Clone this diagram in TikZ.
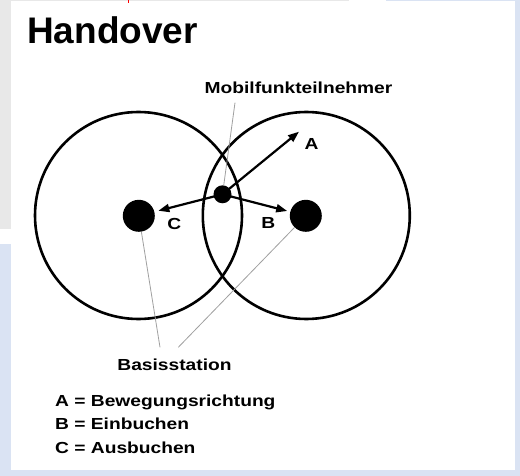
\documentclass[tikz,border=0pt]{standalone}
\usepackage{fontspec}
\setmainfont{Liberation Sans}
\newfontfamily\lblfont[FakeStretch=1.2]{Liberation Sans}
\usetikzlibrary{arrows.meta}
\definecolor{pagegray}{HTML}{E8E8E8}
\definecolor{pageblue}{HTML}{DAE3F3}
\definecolor{leadgray}{HTML}{A0A0A0}
\tikzset{
  lbl/.style={font=\lblfont\fontsize{16}{18}\selectfont\bfseries, inner sep=0pt},
  cell/.style={draw=black, line width=2.6pt},
  station/.style={circle, fill=black, minimum size=32pt, inner sep=0pt},
  handy/.style={circle, fill=black, minimum size=18pt, inner sep=0pt},
  arr/.style={line width=2.2pt, -{Triangle[length=11pt,width=8pt]}},
  leader/.style={draw=leadgray, line width=0.8pt},
}
\begin{document}
\begin{tikzpicture}[x=1pt,y=-1pt]
\useasboundingbox (0,0) rectangle (520,476);
% background
\fill[white] (0,0) rectangle (520,476);
\fill[pagegray] (0,0) rectangle (11,229);
\fill[pagegray] (0,0) rectangle (349,1.4);
\fill[pageblue] (0,244) rectangle (11,476);
\fill[pageblue] (0,470) rectangle (520,476);
\fill[pageblue] (515,0) rectangle (520,476);
\fill[pageblue] (386,0) rectangle (520,1.4);
\draw[red, line width=0.8pt] (128.3,0) -- (128.3,3);
% title
\node[font=\fontsize{37}{40}\selectfont\bfseries, anchor=base west, inner sep=0pt] (title) at (27,44) {Handover};
% cells
\node[circle, cell, minimum size=207pt, inner sep=0pt] (cellL) at (138.5,215.5) {};
\node[circle, cell, minimum size=207pt, inner sep=0pt] (cellR) at (306.3,215.5) {};
% stations and mobile
\node[station] (bsL) at (138.8,215.8) {};
\node[station] (bsR) at (305.8,215.8) {};
\node[handy] (ms) at (222.5,194.3) {};
% arrows
\coordinate (tipA) at (299,131.7);
\draw[arr] (ms.center) -- (tipA);
\draw[arr, shorten >=4pt] (ms.center) -- (bsL);
\draw[arr, shorten >=3pt] (ms.center) -- (bsR);
% arrow labels
\node[lbl, anchor=base] (labA) at (311.5,150) {A};
\node[lbl, anchor=base] (labB) at (268.3,228.3) {B};
\node[lbl, anchor=base] (labC) at (174.2,229.3) {C};
% mobile label
\node[lbl, anchor=base] (mobil) at (298.5,93.3) {Mobilfunkteilnehmer};
\coordinate (mobLead) at (235,102.7);
\draw[leader] (mobLead) -- (ms);
% base station label
\node[lbl, anchor=base] (basis) at (174.5,370) {Basisstation};
\coordinate (bsLeadL) at (160,347.3);
\coordinate (bsLeadR) at (178.3,347.3);
\draw[leader] (bsLeadL) -- (bsL);
\draw[leader] (bsLeadR) -- (bsR);
% legend
\node[lbl, anchor=base west] (legA) at (55,406.5) {A = Bewegungsrichtung};
\node[lbl, anchor=base west] (legB) at (55,429.8) {B = Einbuchen};
\node[lbl, anchor=base west] (legC) at (55,453) {C = Ausbuchen};
\end{tikzpicture}
\end{document}
